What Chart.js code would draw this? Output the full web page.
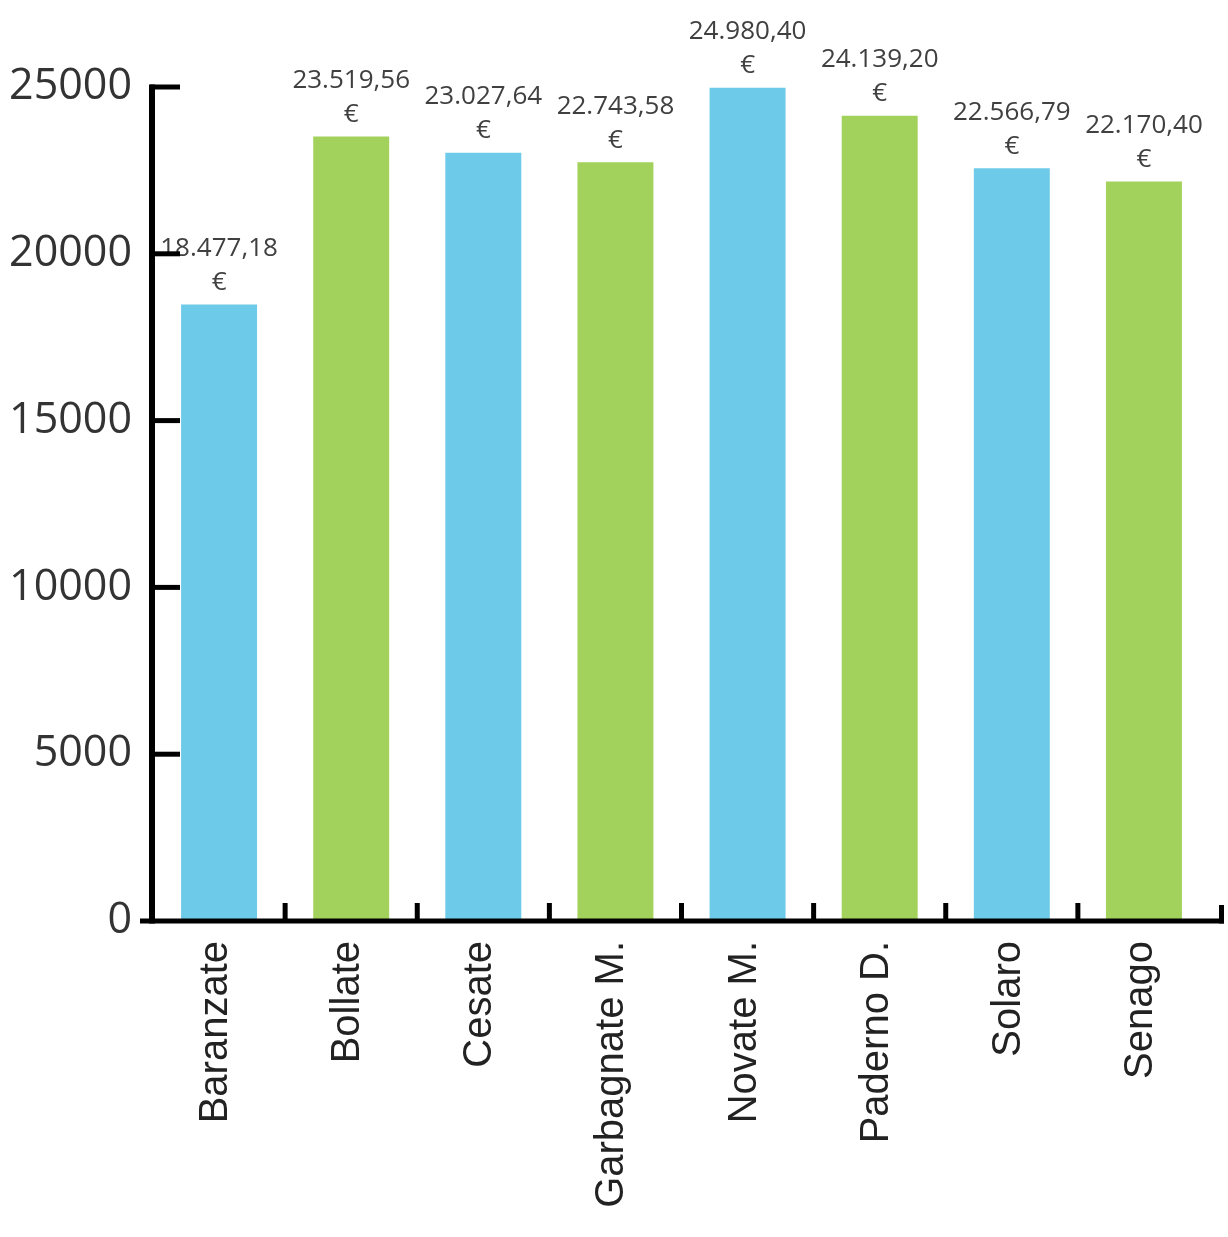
<!DOCTYPE html>
<html>
<head>
<meta charset="utf-8">
<script src="https://cdn.jsdelivr.net/npm/chart.js@4.4.0/dist/chart.umd.min.js"></script>
<style>
  html, body { margin: 0; padding: 0; background: #fff; }
  #wrap { width: 1228px; height: 1237px; }
</style>
</head>
<body>
<div id="wrap"><canvas id="chart" width="1228" height="1237"></canvas></div>
<script>
// data
const comuni = ['Baranzate', 'Bollate', 'Cesate', 'Garbagnate M.', 'Novate M.', 'Paderno D.', 'Solaro', 'Senago'];
const importi = [18477.18, 23519.56, 23027.64, 22743.58, 24980.40, 24139.20, 22566.79, 22170.40];
const etichette = ['18.477,18', '23.519,56', '23.027,64', '22.743,58', '24.980,40', '24.139,20', '22.566,79', '22.170,40'];
const yTicks = [0, 5000, 10000, 15000, 20000, 25000];

const BLUE = '#6dcae8';
const GREEN = '#a2d25c';
const barColors = comuni.map((c, i) => (i % 2 === 0 ? BLUE : GREEN));

// axes with ticks pointing inward, drawn from the chart scales
const axesPlugin = {
  id: 'axesInward',
  afterDraw(chart) {
    const ctx = chart.ctx;
    const x = chart.scales.x;
    const y = chart.scales.y;
    const area = chart.chartArea;
    const y0 = y.getPixelForValue(0);
    const yTop = y.getPixelForValue(yTicks[yTicks.length - 1]);
    ctx.save();
    ctx.strokeStyle = '#000';
    ctx.lineWidth = 5;
    ctx.lineCap = 'butt';
    // y axis
    ctx.beginPath();
    ctx.moveTo(area.left - 1, yTop - 2.5);
    ctx.lineTo(area.left - 1, y0 + 2.5);
    ctx.lineWidth = 6;
    ctx.stroke();
    ctx.lineWidth = 5;
    // y ticks
    yTicks.forEach(v => {
      if (v === 0) return;
      const py = y.getPixelForValue(v);
      ctx.beginPath();
      ctx.moveTo(area.left - 3, py);
      ctx.lineTo(area.left + 27, py);
      ctx.stroke();
    });
    // x axis
    const xEnd = area.right + 14;
    ctx.beginPath();
    ctx.moveTo(area.left - 13, y0);
    ctx.lineTo(xEnd, y0);
    ctx.stroke();
    // x ticks between categories
    for (let i = 0; i < comuni.length - 1; i++) {
      const px = (x.getPixelForValue(i) + x.getPixelForValue(i + 1)) / 2;
      ctx.beginPath();
      ctx.moveTo(px, y0);
      ctx.lineTo(px, y0 - 18);
      ctx.stroke();
    }
    ctx.beginPath();
    ctx.moveTo(xEnd - 2.5, y0 + 2.5);
    ctx.lineTo(xEnd - 2.5, y0 - 16);
    ctx.stroke();
    ctx.restore();
  }
};

// value labels above each bar: amount, then euro sign on the next line
const labelPlugin = {
  id: 'valueLabels',
  afterDatasetsDraw(chart) {
    const ctx = chart.ctx;
    const meta = chart.getDatasetMeta(0);
    ctx.save();
    ctx.fillStyle = '#404040';
    ctx.font = '26px "Open Sans", "Noto Sans", sans-serif';
    ctx.textAlign = 'center';
    ctx.textBaseline = 'middle';
    meta.data.forEach((bar, i) => {
      ctx.fillText(etichette[i], bar.x, bar.y - 56);
      ctx.fillText('€', bar.x, bar.y - 22);
    });
    ctx.restore();
  }
};

new Chart(document.getElementById('chart'), {
  type: 'bar',
  data: {
    labels: comuni,
    datasets: [{
      data: importi,
      backgroundColor: barColors,
      borderWidth: 0,
      categoryPercentage: 1,
      barPercentage: 0.575
    }]
  },
  options: {
    responsive: false,
    animation: false,
    events: [],
    layout: { padding: { top: 87, right: 18, left: 0, bottom: 0 } },
    plugins: {
      legend: { display: false },
      tooltip: { enabled: false }
    },
    scales: {
      x: {
        grid: { display: false },
        border: { display: false },
        ticks: {
          autoSkip: false,
          minRotation: 90,
          maxRotation: 90,
          padding: 12,
          labelOffset: -3,
          color: '#222',
          font: { family: '"Liberation Sans", Arial, sans-serif', size: 40 }
        },
        afterFit(scale) { scale.height = 316; }
      },
      y: {
        min: 0,
        max: 25000,
        grid: { display: false },
        border: { display: false },
        ticks: {
          stepSize: 5000,
          padding: 13,
          color: '#333',
          font: { family: '"Open Sans", "Noto Sans", sans-serif', size: 43 },
          callback: v => String(v)
        },
        afterFit(scale) { scale.width = 153; }
      }
    }
  },
  plugins: [axesPlugin, labelPlugin]
});
</script>
</body>
</html>
